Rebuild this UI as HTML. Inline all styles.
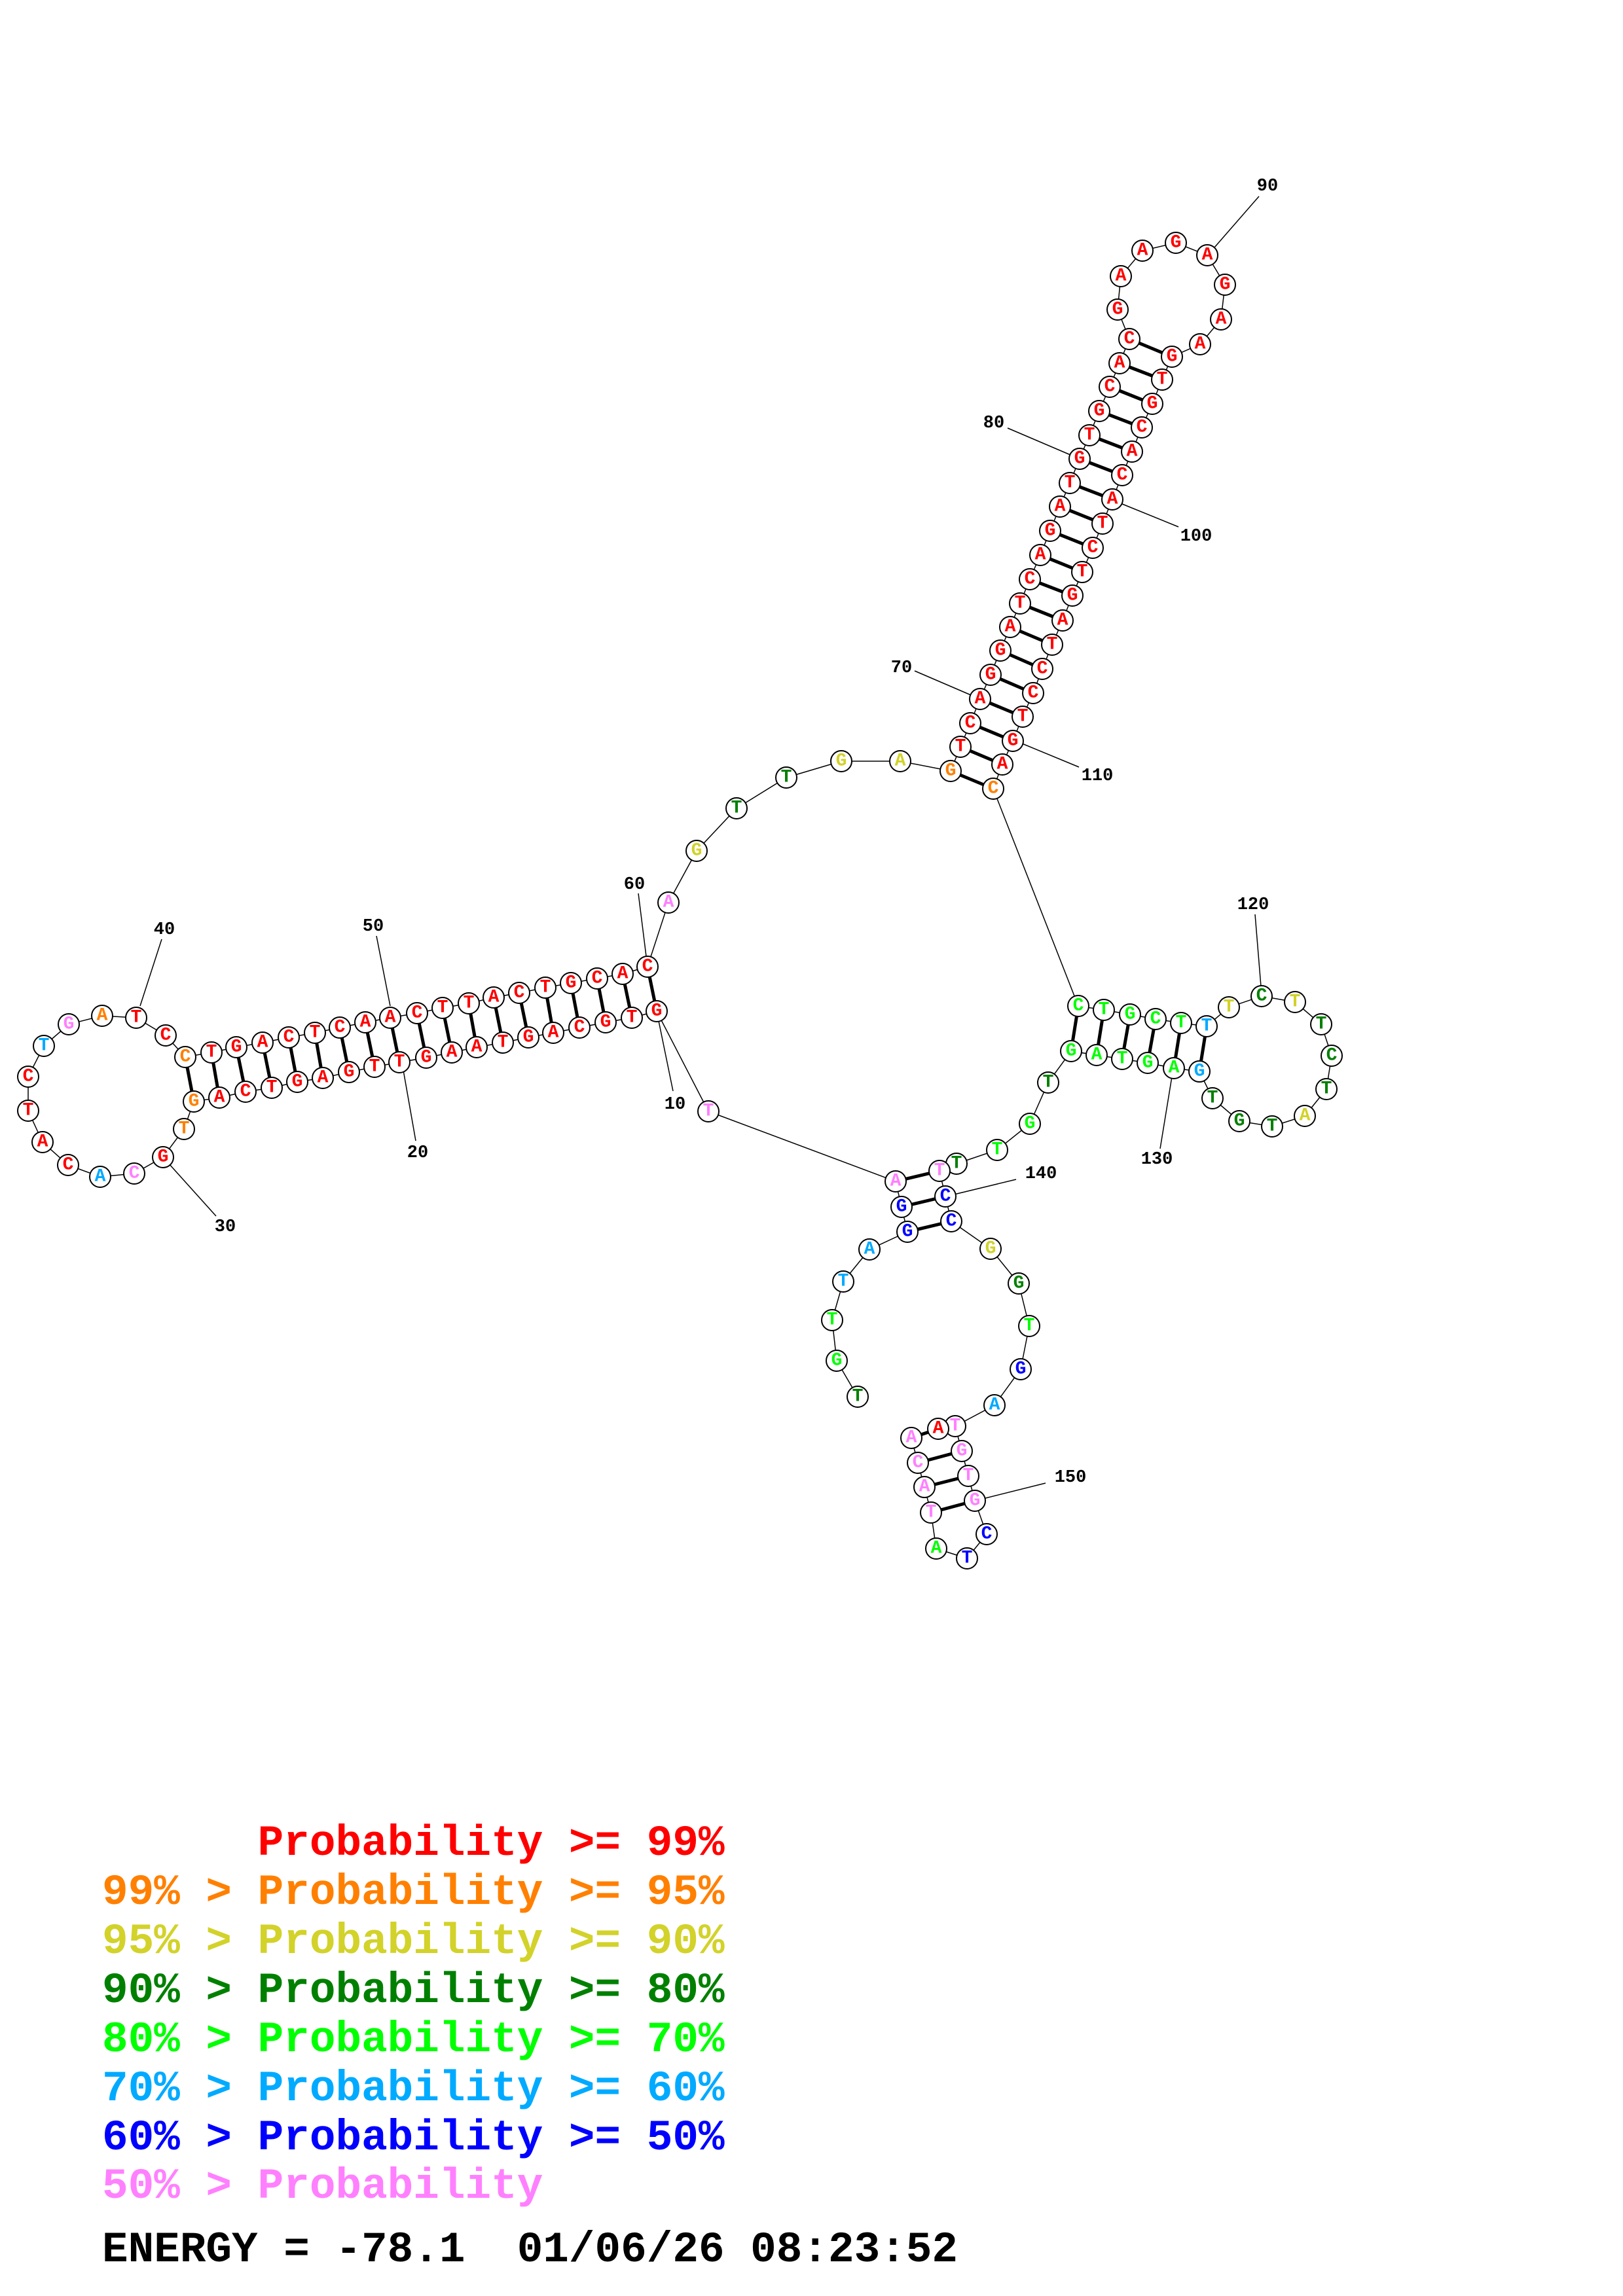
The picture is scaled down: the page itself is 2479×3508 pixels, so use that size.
<!DOCTYPE html>
<html><head><meta charset="utf-8"><style>
html,body{margin:0;padding:0;background:#fff}
svg{display:block}
.n circle{fill:#fff;stroke:#000;stroke-width:2}
.n text{font-family:"Liberation Mono",monospace;font-weight:bold;font-size:28px;text-anchor:middle;dominant-baseline:central}
.lb{font-family:"Liberation Mono",monospace;font-weight:bold;font-size:27px;text-anchor:middle;dominant-baseline:central;fill:#000}
.lg{font-family:"Liberation Mono",monospace;font-weight:bold;font-size:66px;white-space:pre}
.r{fill:#ff0000}.o{fill:#ff8000}.y{fill:#d2d22a}.d{fill:#008000}.g{fill:#00ff00}.s{fill:#00aaff}.b{fill:#0000ff}.p{fill:#ff80ff}
</style></head><body>
<svg width="2479" height="3508" viewBox="0 0 2479 3508" xmlns="http://www.w3.org/2000/svg">
<rect width="2479" height="3508" fill="#fff"/>
<polyline fill="none" stroke="#000" stroke-width="1.5" points="1310,2134 1278,2079 1271,2017 1288,1958 1328,1909 1386,1882 1377,1844 1368,1805 1082,1698 1003,1545 965,1555 925,1562 885,1570 845,1578 807,1585 768,1593 728,1600 690,1608 651,1616 610,1623 572,1630 533,1638 493,1647 454,1653 415,1662 375,1668 335,1677 296,1683 281,1725 249,1768 205,1793 153,1798 104,1780 65,1745 43,1697 43,1645 67,1598 105,1565 156,1552 208,1555 253,1582 283,1615 323,1608 361,1600 401,1593 441,1585 481,1578 519,1570 558,1562 596,1555 637,1548 676,1540 716,1533 754,1524 793,1517 833,1509 872,1502 912,1495 951,1488 989,1477 1021,1379 1064,1300 1125,1235 1201,1188 1285,1163 1375,1163 1452,1178 1467,1141 1482,1105 1497,1068 1513,1031 1528,994 1543,958 1558,922 1573,885 1589,848 1604,811 1619,774 1634,738 1649,701 1664,665 1679,628 1695,591 1710,555 1725,518 1707,473 1712,422 1745,383 1796,371 1844,390 1871,435 1865,488 1833,526 1790,545 1775,580 1760,617 1744,653 1729,690 1714,726 1699,763 1684,800 1669,837 1653,874 1638,910 1623,948 1607,985 1592,1022 1578,1059 1562,1095 1547,1132 1531,1168 1517,1205 1647,1537 1686,1543 1726,1550 1765,1557 1804,1563 1843,1568 1877,1539 1927,1522 1978,1531 2018,1565 2034,1613 2026,1664 1993,1705 1943,1721 1893,1713 1852,1678 1832,1637 1793,1632 1753,1624 1714,1618 1675,1612 1636,1606 1601,1654 1573,1717 1523,1757 1461,1778 1435,1789 1444,1828 1453,1866 1513,1908 1556,1961 1572,2026 1559,2092 1519,2147 1459,2179 1469,2217 1479,2255 1489,2293 1507,2344 1477,2381 1430,2366 1422,2311 1412,2272 1402,2235 1392,2197 1433,2183"/>
<g stroke="#000" stroke-width="5">
<line x1="1003" y1="1545" x2="989" y2="1477"/><line x1="965" y1="1555" x2="951" y2="1488"/><line x1="925" y1="1562" x2="912" y2="1495"/><line x1="885" y1="1570" x2="872" y2="1502"/><line x1="845" y1="1578" x2="833" y2="1509"/><line x1="807" y1="1585" x2="793" y2="1517"/><line x1="768" y1="1593" x2="754" y2="1524"/><line x1="728" y1="1600" x2="716" y2="1533"/><line x1="690" y1="1608" x2="676" y2="1540"/><line x1="651" y1="1616" x2="637" y2="1548"/><line x1="610" y1="1623" x2="596" y2="1555"/><line x1="572" y1="1630" x2="558" y2="1562"/><line x1="533" y1="1638" x2="519" y2="1570"/><line x1="493" y1="1647" x2="481" y2="1578"/><line x1="454" y1="1653" x2="441" y2="1585"/><line x1="415" y1="1662" x2="401" y2="1593"/><line x1="375" y1="1668" x2="361" y2="1600"/><line x1="335" y1="1677" x2="323" y2="1608"/><line x1="296" y1="1683" x2="283" y2="1615"/>
<line x1="1452" y1="1178" x2="1517" y2="1205"/><line x1="1467" y1="1141" x2="1531" y2="1168"/><line x1="1482" y1="1105" x2="1547" y2="1132"/><line x1="1497" y1="1068" x2="1562" y2="1095"/><line x1="1513" y1="1031" x2="1578" y2="1059"/><line x1="1528" y1="994" x2="1592" y2="1022"/><line x1="1543" y1="958" x2="1607" y2="985"/><line x1="1558" y1="922" x2="1623" y2="948"/><line x1="1573" y1="885" x2="1638" y2="910"/><line x1="1589" y1="848" x2="1653" y2="874"/><line x1="1604" y1="811" x2="1669" y2="837"/><line x1="1619" y1="774" x2="1684" y2="800"/><line x1="1634" y1="738" x2="1699" y2="763"/><line x1="1649" y1="701" x2="1714" y2="726"/><line x1="1664" y1="665" x2="1729" y2="690"/><line x1="1679" y1="628" x2="1744" y2="653"/><line x1="1695" y1="591" x2="1760" y2="617"/><line x1="1710" y1="555" x2="1775" y2="580"/><line x1="1725" y1="518" x2="1790" y2="545"/>
<line x1="1647" y1="1537" x2="1636" y2="1606"/><line x1="1686" y1="1543" x2="1675" y2="1612"/><line x1="1726" y1="1550" x2="1714" y2="1618"/><line x1="1765" y1="1557" x2="1753" y2="1624"/><line x1="1804" y1="1563" x2="1793" y2="1632"/><line x1="1843" y1="1568" x2="1832" y2="1637"/>
<line x1="1386" y1="1882" x2="1453" y2="1866"/><line x1="1377" y1="1844" x2="1444" y2="1828"/><line x1="1368" y1="1805" x2="1435" y2="1789"/>
<line x1="1392" y1="2197" x2="1433" y2="2183"/><line x1="1402" y1="2235" x2="1469" y2="2217"/><line x1="1412" y1="2272" x2="1479" y2="2255"/><line x1="1422" y1="2311" x2="1489" y2="2293"/>
</g>
<g stroke="#000" stroke-width="1.5">
<line x1="1003" y1="1545" x2="1028" y2="1667"/><line x1="616" y1="1635" x2="635" y2="1743"/><line x1="249" y1="1768" x2="330" y2="1858"/><line x1="214" y1="1537" x2="247" y2="1435"/><line x1="596" y1="1537" x2="575" y2="1430"/><line x1="989" y1="1477" x2="975" y2="1365"/><line x1="1497" y1="1068" x2="1397" y2="1025"/><line x1="1649" y1="701" x2="1539" y2="654"/><line x1="1855" y1="378" x2="1923" y2="300"/><line x1="1714" y1="770" x2="1800" y2="805"/><line x1="1561" y1="1136" x2="1648" y2="1172"/><line x1="1926" y1="1507" x2="1917" y2="1397"/><line x1="1790" y1="1645" x2="1772" y2="1755"/><line x1="1453" y1="1826" x2="1552" y2="1802"/><line x1="1489" y1="2293" x2="1597" y2="2266"/>
</g>
<g>
<text class="lb" x="1031" y="1688">10</text><text class="lb" x="638" y="1762">20</text><text class="lb" x="344" y="1875">30</text><text class="lb" x="251" y="1421">40</text><text class="lb" x="570" y="1416">50</text><text class="lb" x="969" y="1352">60</text><text class="lb" x="1377" y="1021">70</text><text class="lb" x="1518" y="647">80</text><text class="lb" x="1936" y="285">90</text><text class="lb" x="1827" y="820">100</text><text class="lb" x="1676" y="1186">110</text><text class="lb" x="1914" y="1383">120</text><text class="lb" x="1767" y="1772">130</text><text class="lb" x="1590" y="1794">140</text><text class="lb" x="1635" y="2258">150</text>
</g>
<g class="n">
<circle cx="1310" cy="2134" r="16"/><text x="1310" y="2134" class="d">T</text>
<circle cx="1278" cy="2079" r="16"/><text x="1278" y="2079" class="g">G</text>
<circle cx="1271" cy="2017" r="16"/><text x="1271" y="2017" class="g">T</text>
<circle cx="1288" cy="1958" r="16"/><text x="1288" y="1958" class="s">T</text>
<circle cx="1328" cy="1909" r="16"/><text x="1328" y="1909" class="s">A</text>
<circle cx="1386" cy="1882" r="16"/><text x="1386" y="1882" class="b">G</text>
<circle cx="1377" cy="1844" r="16"/><text x="1377" y="1844" class="b">G</text>
<circle cx="1368" cy="1805" r="16"/><text x="1368" y="1805" class="p">A</text>
<circle cx="1082" cy="1698" r="16"/><text x="1082" y="1698" class="p">T</text>
<circle cx="1003" cy="1545" r="16"/><text x="1003" y="1545" class="r">G</text>
<circle cx="965" cy="1555" r="16"/><text x="965" y="1555" class="r">T</text>
<circle cx="925" cy="1562" r="16"/><text x="925" y="1562" class="r">G</text>
<circle cx="885" cy="1570" r="16"/><text x="885" y="1570" class="r">C</text>
<circle cx="845" cy="1578" r="16"/><text x="845" y="1578" class="r">A</text>
<circle cx="807" cy="1585" r="16"/><text x="807" y="1585" class="r">G</text>
<circle cx="768" cy="1593" r="16"/><text x="768" y="1593" class="r">T</text>
<circle cx="728" cy="1600" r="16"/><text x="728" y="1600" class="r">A</text>
<circle cx="690" cy="1608" r="16"/><text x="690" y="1608" class="r">A</text>
<circle cx="651" cy="1616" r="16"/><text x="651" y="1616" class="r">G</text>
<circle cx="610" cy="1623" r="16"/><text x="610" y="1623" class="r">T</text>
<circle cx="572" cy="1630" r="16"/><text x="572" y="1630" class="r">T</text>
<circle cx="533" cy="1638" r="16"/><text x="533" y="1638" class="r">G</text>
<circle cx="493" cy="1647" r="16"/><text x="493" y="1647" class="r">A</text>
<circle cx="454" cy="1653" r="16"/><text x="454" y="1653" class="r">G</text>
<circle cx="415" cy="1662" r="16"/><text x="415" y="1662" class="r">T</text>
<circle cx="375" cy="1668" r="16"/><text x="375" y="1668" class="r">C</text>
<circle cx="335" cy="1677" r="16"/><text x="335" y="1677" class="r">A</text>
<circle cx="296" cy="1683" r="16"/><text x="296" y="1683" class="o">G</text>
<circle cx="281" cy="1725" r="16"/><text x="281" y="1725" class="o">T</text>
<circle cx="249" cy="1768" r="16"/><text x="249" y="1768" class="r">G</text>
<circle cx="205" cy="1793" r="16"/><text x="205" y="1793" class="p">C</text>
<circle cx="153" cy="1798" r="16"/><text x="153" y="1798" class="s">A</text>
<circle cx="104" cy="1780" r="16"/><text x="104" y="1780" class="r">C</text>
<circle cx="65" cy="1745" r="16"/><text x="65" y="1745" class="r">A</text>
<circle cx="43" cy="1697" r="16"/><text x="43" y="1697" class="r">T</text>
<circle cx="43" cy="1645" r="16"/><text x="43" y="1645" class="r">C</text>
<circle cx="67" cy="1598" r="16"/><text x="67" y="1598" class="s">T</text>
<circle cx="105" cy="1565" r="16"/><text x="105" y="1565" class="p">G</text>
<circle cx="156" cy="1552" r="16"/><text x="156" y="1552" class="o">A</text>
<circle cx="208" cy="1555" r="16"/><text x="208" y="1555" class="r">T</text>
<circle cx="253" cy="1582" r="16"/><text x="253" y="1582" class="r">C</text>
<circle cx="283" cy="1615" r="16"/><text x="283" y="1615" class="o">C</text>
<circle cx="323" cy="1608" r="16"/><text x="323" y="1608" class="r">T</text>
<circle cx="361" cy="1600" r="16"/><text x="361" y="1600" class="r">G</text>
<circle cx="401" cy="1593" r="16"/><text x="401" y="1593" class="r">A</text>
<circle cx="441" cy="1585" r="16"/><text x="441" y="1585" class="r">C</text>
<circle cx="481" cy="1578" r="16"/><text x="481" y="1578" class="r">T</text>
<circle cx="519" cy="1570" r="16"/><text x="519" y="1570" class="r">C</text>
<circle cx="558" cy="1562" r="16"/><text x="558" y="1562" class="r">A</text>
<circle cx="596" cy="1555" r="16"/><text x="596" y="1555" class="r">A</text>
<circle cx="637" cy="1548" r="16"/><text x="637" y="1548" class="r">C</text>
<circle cx="676" cy="1540" r="16"/><text x="676" y="1540" class="r">T</text>
<circle cx="716" cy="1533" r="16"/><text x="716" y="1533" class="r">T</text>
<circle cx="754" cy="1524" r="16"/><text x="754" y="1524" class="r">A</text>
<circle cx="793" cy="1517" r="16"/><text x="793" y="1517" class="r">C</text>
<circle cx="833" cy="1509" r="16"/><text x="833" y="1509" class="r">T</text>
<circle cx="872" cy="1502" r="16"/><text x="872" y="1502" class="r">G</text>
<circle cx="912" cy="1495" r="16"/><text x="912" y="1495" class="r">C</text>
<circle cx="951" cy="1488" r="16"/><text x="951" y="1488" class="r">A</text>
<circle cx="989" cy="1477" r="16"/><text x="989" y="1477" class="r">C</text>
<circle cx="1021" cy="1379" r="16"/><text x="1021" y="1379" class="p">A</text>
<circle cx="1064" cy="1300" r="16"/><text x="1064" y="1300" class="y">G</text>
<circle cx="1125" cy="1235" r="16"/><text x="1125" y="1235" class="d">T</text>
<circle cx="1201" cy="1188" r="16"/><text x="1201" y="1188" class="d">T</text>
<circle cx="1285" cy="1163" r="16"/><text x="1285" y="1163" class="y">G</text>
<circle cx="1375" cy="1163" r="16"/><text x="1375" y="1163" class="y">A</text>
<circle cx="1452" cy="1178" r="16"/><text x="1452" y="1178" class="o">G</text>
<circle cx="1467" cy="1141" r="16"/><text x="1467" y="1141" class="r">T</text>
<circle cx="1482" cy="1105" r="16"/><text x="1482" y="1105" class="r">C</text>
<circle cx="1497" cy="1068" r="16"/><text x="1497" y="1068" class="r">A</text>
<circle cx="1513" cy="1031" r="16"/><text x="1513" y="1031" class="r">G</text>
<circle cx="1528" cy="994" r="16"/><text x="1528" y="994" class="r">G</text>
<circle cx="1543" cy="958" r="16"/><text x="1543" y="958" class="r">A</text>
<circle cx="1558" cy="922" r="16"/><text x="1558" y="922" class="r">T</text>
<circle cx="1573" cy="885" r="16"/><text x="1573" y="885" class="r">C</text>
<circle cx="1589" cy="848" r="16"/><text x="1589" y="848" class="r">A</text>
<circle cx="1604" cy="811" r="16"/><text x="1604" y="811" class="r">G</text>
<circle cx="1619" cy="774" r="16"/><text x="1619" y="774" class="r">A</text>
<circle cx="1634" cy="738" r="16"/><text x="1634" y="738" class="r">T</text>
<circle cx="1649" cy="701" r="16"/><text x="1649" y="701" class="r">G</text>
<circle cx="1664" cy="665" r="16"/><text x="1664" y="665" class="r">T</text>
<circle cx="1679" cy="628" r="16"/><text x="1679" y="628" class="r">G</text>
<circle cx="1695" cy="591" r="16"/><text x="1695" y="591" class="r">C</text>
<circle cx="1710" cy="555" r="16"/><text x="1710" y="555" class="r">A</text>
<circle cx="1725" cy="518" r="16"/><text x="1725" y="518" class="r">C</text>
<circle cx="1707" cy="473" r="16"/><text x="1707" y="473" class="r">G</text>
<circle cx="1712" cy="422" r="16"/><text x="1712" y="422" class="r">A</text>
<circle cx="1745" cy="383" r="16"/><text x="1745" y="383" class="r">A</text>
<circle cx="1796" cy="371" r="16"/><text x="1796" y="371" class="r">G</text>
<circle cx="1844" cy="390" r="16"/><text x="1844" y="390" class="r">A</text>
<circle cx="1871" cy="435" r="16"/><text x="1871" y="435" class="r">G</text>
<circle cx="1865" cy="488" r="16"/><text x="1865" y="488" class="r">A</text>
<circle cx="1833" cy="526" r="16"/><text x="1833" y="526" class="r">A</text>
<circle cx="1790" cy="545" r="16"/><text x="1790" y="545" class="r">G</text>
<circle cx="1775" cy="580" r="16"/><text x="1775" y="580" class="r">T</text>
<circle cx="1760" cy="617" r="16"/><text x="1760" y="617" class="r">G</text>
<circle cx="1744" cy="653" r="16"/><text x="1744" y="653" class="r">C</text>
<circle cx="1729" cy="690" r="16"/><text x="1729" y="690" class="r">A</text>
<circle cx="1714" cy="726" r="16"/><text x="1714" y="726" class="r">C</text>
<circle cx="1699" cy="763" r="16"/><text x="1699" y="763" class="r">A</text>
<circle cx="1684" cy="800" r="16"/><text x="1684" y="800" class="r">T</text>
<circle cx="1669" cy="837" r="16"/><text x="1669" y="837" class="r">C</text>
<circle cx="1653" cy="874" r="16"/><text x="1653" y="874" class="r">T</text>
<circle cx="1638" cy="910" r="16"/><text x="1638" y="910" class="r">G</text>
<circle cx="1623" cy="948" r="16"/><text x="1623" y="948" class="r">A</text>
<circle cx="1607" cy="985" r="16"/><text x="1607" y="985" class="r">T</text>
<circle cx="1592" cy="1022" r="16"/><text x="1592" y="1022" class="r">C</text>
<circle cx="1578" cy="1059" r="16"/><text x="1578" y="1059" class="r">C</text>
<circle cx="1562" cy="1095" r="16"/><text x="1562" y="1095" class="r">T</text>
<circle cx="1547" cy="1132" r="16"/><text x="1547" y="1132" class="r">G</text>
<circle cx="1531" cy="1168" r="16"/><text x="1531" y="1168" class="r">A</text>
<circle cx="1517" cy="1205" r="16"/><text x="1517" y="1205" class="o">C</text>
<circle cx="1647" cy="1537" r="16"/><text x="1647" y="1537" class="g">C</text>
<circle cx="1686" cy="1543" r="16"/><text x="1686" y="1543" class="g">T</text>
<circle cx="1726" cy="1550" r="16"/><text x="1726" y="1550" class="g">G</text>
<circle cx="1765" cy="1557" r="16"/><text x="1765" y="1557" class="g">C</text>
<circle cx="1804" cy="1563" r="16"/><text x="1804" y="1563" class="g">T</text>
<circle cx="1843" cy="1568" r="16"/><text x="1843" y="1568" class="s">T</text>
<circle cx="1877" cy="1539" r="16"/><text x="1877" y="1539" class="y">T</text>
<circle cx="1927" cy="1522" r="16"/><text x="1927" y="1522" class="d">C</text>
<circle cx="1978" cy="1531" r="16"/><text x="1978" y="1531" class="y">T</text>
<circle cx="2018" cy="1565" r="16"/><text x="2018" y="1565" class="d">T</text>
<circle cx="2034" cy="1613" r="16"/><text x="2034" y="1613" class="d">C</text>
<circle cx="2026" cy="1664" r="16"/><text x="2026" y="1664" class="d">T</text>
<circle cx="1993" cy="1705" r="16"/><text x="1993" y="1705" class="y">A</text>
<circle cx="1943" cy="1721" r="16"/><text x="1943" y="1721" class="d">T</text>
<circle cx="1893" cy="1713" r="16"/><text x="1893" y="1713" class="d">G</text>
<circle cx="1852" cy="1678" r="16"/><text x="1852" y="1678" class="d">T</text>
<circle cx="1832" cy="1637" r="16"/><text x="1832" y="1637" class="s">G</text>
<circle cx="1793" cy="1632" r="16"/><text x="1793" y="1632" class="g">A</text>
<circle cx="1753" cy="1624" r="16"/><text x="1753" y="1624" class="g">G</text>
<circle cx="1714" cy="1618" r="16"/><text x="1714" y="1618" class="g">T</text>
<circle cx="1675" cy="1612" r="16"/><text x="1675" y="1612" class="g">A</text>
<circle cx="1636" cy="1606" r="16"/><text x="1636" y="1606" class="g">G</text>
<circle cx="1601" cy="1654" r="16"/><text x="1601" y="1654" class="d">T</text>
<circle cx="1573" cy="1717" r="16"/><text x="1573" y="1717" class="g">G</text>
<circle cx="1523" cy="1757" r="16"/><text x="1523" y="1757" class="g">T</text>
<circle cx="1461" cy="1778" r="16"/><text x="1461" y="1778" class="d">T</text>
<circle cx="1435" cy="1789" r="16"/><text x="1435" y="1789" class="p">T</text>
<circle cx="1444" cy="1828" r="16"/><text x="1444" y="1828" class="b">C</text>
<circle cx="1453" cy="1866" r="16"/><text x="1453" y="1866" class="b">C</text>
<circle cx="1513" cy="1908" r="16"/><text x="1513" y="1908" class="y">G</text>
<circle cx="1556" cy="1961" r="16"/><text x="1556" y="1961" class="d">G</text>
<circle cx="1572" cy="2026" r="16"/><text x="1572" y="2026" class="g">T</text>
<circle cx="1559" cy="2092" r="16"/><text x="1559" y="2092" class="b">G</text>
<circle cx="1519" cy="2147" r="16"/><text x="1519" y="2147" class="s">A</text>
<circle cx="1459" cy="2179" r="16"/><text x="1459" y="2179" class="p">T</text>
<circle cx="1469" cy="2217" r="16"/><text x="1469" y="2217" class="p">G</text>
<circle cx="1479" cy="2255" r="16"/><text x="1479" y="2255" class="p">T</text>
<circle cx="1489" cy="2293" r="16"/><text x="1489" y="2293" class="p">G</text>
<circle cx="1507" cy="2344" r="16"/><text x="1507" y="2344" class="b">C</text>
<circle cx="1477" cy="2381" r="16"/><text x="1477" y="2381" class="b">T</text>
<circle cx="1430" cy="2366" r="16"/><text x="1430" y="2366" class="g">A</text>
<circle cx="1422" cy="2311" r="16"/><text x="1422" y="2311" class="p">T</text>
<circle cx="1412" cy="2272" r="16"/><text x="1412" y="2272" class="p">A</text>
<circle cx="1402" cy="2235" r="16"/><text x="1402" y="2235" class="p">C</text>
<circle cx="1392" cy="2197" r="16"/><text x="1392" y="2197" class="p">A</text>
<circle cx="1433" cy="2183" r="16"/><text x="1433" y="2183" class="r">A</text>
</g>
<text class="lg r" x="156" y="2834" xml:space="preserve">      Probability &gt;= 99%</text>
<text class="lg o" x="156" y="2909" xml:space="preserve">99% &gt; Probability &gt;= 95%</text>
<text class="lg y" x="156" y="2984" xml:space="preserve">95% &gt; Probability &gt;= 90%</text>
<text class="lg d" x="156" y="3059" xml:space="preserve">90% &gt; Probability &gt;= 80%</text>
<text class="lg g" x="156" y="3134" xml:space="preserve">80% &gt; Probability &gt;= 70%</text>
<text class="lg s" x="156" y="3209" xml:space="preserve">70% &gt; Probability &gt;= 60%</text>
<text class="lg b" x="156" y="3284" xml:space="preserve">60% &gt; Probability &gt;= 50%</text>
<text class="lg p" x="156" y="3358" xml:space="preserve">50% &gt; Probability</text>
<text class="lg" x="156" y="3455" fill="#000" xml:space="preserve">ENERGY = -78.1  01/06/26 08:23:52</text>
</svg>
</body></html>
